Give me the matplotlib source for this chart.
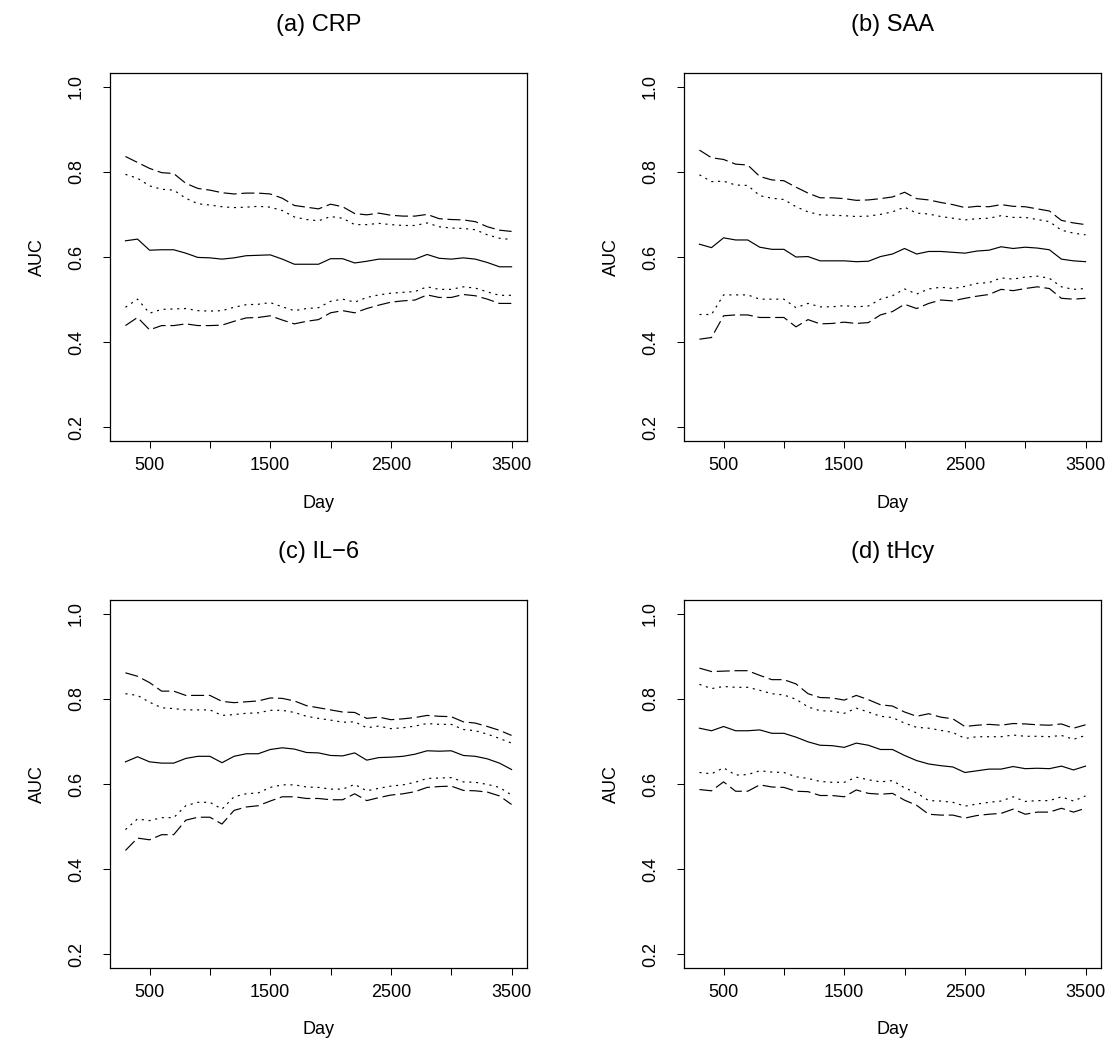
import matplotlib
matplotlib.use("Agg")
import matplotlib.pyplot as plt

plt.rcParams['font.family'] = ['Liberation Sans', 'DejaVu Sans']
plt.rcParams['lines.scale_dashes'] = False

days = list(range(300, 3501, 100))

panel_titles = ["(a) CRP", "(b) SAA", "(c) IL\u22126", "(d) tHcy"]
x_ticks = [500, 1000, 1500, 2000, 2500, 3000, 3500]
x_tick_labels = ["500", "", "1500", "", "2500", "", "3500"]
y_ticks = [0.2, 0.4, 0.6, 0.8, 1.0]
y_tick_labels = ["0.2", "0.4", "0.6", "0.8", "1.0"]

# (a) CRP
crp_auc = [0.638, 0.642, 0.616, 0.617, 0.617, 0.609, 0.599, 0.598, 0.595, 0.598, 0.603,
           0.604, 0.605, 0.595, 0.583, 0.583, 0.583, 0.596, 0.596, 0.586, 0.590, 0.595,
           0.595, 0.595, 0.595, 0.606, 0.597, 0.595, 0.598, 0.595, 0.587, 0.577, 0.577]
crp_upper_outer = [0.836, 0.822, 0.808, 0.798, 0.796, 0.773, 0.761, 0.757, 0.751, 0.748, 0.750,
                   0.750, 0.748, 0.738, 0.721, 0.717, 0.713, 0.724, 0.718, 0.702, 0.699, 0.703,
                   0.698, 0.696, 0.696, 0.700, 0.690, 0.688, 0.687, 0.683, 0.671, 0.663, 0.660]
crp_upper_inner = [0.794, 0.785, 0.767, 0.759, 0.757, 0.738, 0.725, 0.722, 0.718, 0.716, 0.717,
                   0.719, 0.717, 0.709, 0.694, 0.688, 0.685, 0.695, 0.691, 0.676, 0.676, 0.679,
                   0.676, 0.674, 0.674, 0.680, 0.671, 0.668, 0.667, 0.664, 0.652, 0.644, 0.641]
crp_lower_inner = [0.482, 0.501, 0.468, 0.477, 0.478, 0.479, 0.474, 0.473, 0.474, 0.482, 0.488,
                   0.489, 0.493, 0.483, 0.474, 0.479, 0.481, 0.496, 0.501, 0.494, 0.505, 0.511,
                   0.515, 0.517, 0.519, 0.530, 0.524, 0.524, 0.530, 0.527, 0.518, 0.510, 0.510]
crp_lower_outer = [0.439, 0.458, 0.429, 0.439, 0.439, 0.443, 0.439, 0.439, 0.440, 0.449, 0.457,
                   0.458, 0.462, 0.452, 0.443, 0.449, 0.453, 0.469, 0.474, 0.469, 0.479, 0.487,
                   0.494, 0.497, 0.499, 0.511, 0.505, 0.505, 0.512, 0.509, 0.501, 0.491, 0.491]

# (b) SAA
saa_auc = [0.630, 0.622, 0.645, 0.640, 0.640, 0.623, 0.618, 0.618, 0.600, 0.601, 0.591,
           0.591, 0.591, 0.589, 0.590, 0.601, 0.607, 0.620, 0.607, 0.613, 0.613, 0.611,
           0.609, 0.614, 0.616, 0.624, 0.620, 0.623, 0.621, 0.617, 0.595, 0.591, 0.589]
saa_upper_outer = [0.851, 0.833, 0.829, 0.818, 0.816, 0.789, 0.781, 0.779, 0.764, 0.750, 0.739,
                   0.739, 0.737, 0.733, 0.734, 0.737, 0.741, 0.752, 0.737, 0.734, 0.728, 0.723,
                   0.716, 0.719, 0.718, 0.723, 0.719, 0.718, 0.713, 0.708, 0.686, 0.680, 0.676]
saa_upper_inner = [0.793, 0.777, 0.778, 0.769, 0.768, 0.744, 0.738, 0.735, 0.718, 0.706, 0.699,
                   0.698, 0.697, 0.695, 0.696, 0.700, 0.706, 0.717, 0.703, 0.701, 0.695, 0.691,
                   0.687, 0.690, 0.691, 0.697, 0.693, 0.693, 0.688, 0.683, 0.663, 0.656, 0.652]
saa_lower_inner = [0.465, 0.465, 0.511, 0.511, 0.511, 0.501, 0.501, 0.501, 0.481, 0.491, 0.483,
                   0.483, 0.486, 0.483, 0.485, 0.501, 0.509, 0.525, 0.513, 0.525, 0.529, 0.526,
                   0.531, 0.538, 0.540, 0.551, 0.548, 0.553, 0.555, 0.550, 0.530, 0.524, 0.526]
saa_lower_outer = [0.407, 0.411, 0.462, 0.464, 0.464, 0.458, 0.458, 0.458, 0.436, 0.453, 0.443,
                   0.444, 0.447, 0.444, 0.446, 0.464, 0.472, 0.489, 0.479, 0.491, 0.499, 0.497,
                   0.503, 0.508, 0.512, 0.524, 0.521, 0.526, 0.530, 0.526, 0.503, 0.501, 0.503]

# (c) IL-6
il6_auc = [0.652, 0.664, 0.652, 0.649, 0.649, 0.660, 0.665, 0.665, 0.650, 0.665, 0.671,
           0.671, 0.681, 0.685, 0.682, 0.674, 0.673, 0.667, 0.666, 0.673, 0.656, 0.662,
           0.663, 0.665, 0.670, 0.678, 0.677, 0.678, 0.667, 0.665, 0.659, 0.649, 0.634]
il6_upper_outer = [0.861, 0.853, 0.838, 0.818, 0.818, 0.808, 0.808, 0.808, 0.794, 0.791, 0.793,
                   0.795, 0.802, 0.801, 0.795, 0.784, 0.779, 0.774, 0.769, 0.768, 0.754, 0.757,
                   0.751, 0.753, 0.756, 0.761, 0.759, 0.758, 0.746, 0.743, 0.735, 0.726, 0.714]
il6_upper_inner = [0.812, 0.808, 0.792, 0.779, 0.777, 0.774, 0.774, 0.774, 0.761, 0.763, 0.766,
                   0.767, 0.773, 0.773, 0.768, 0.759, 0.754, 0.750, 0.745, 0.746, 0.732, 0.736,
                   0.730, 0.732, 0.736, 0.742, 0.740, 0.740, 0.728, 0.725, 0.717, 0.707, 0.696]
il6_lower_inner = [0.493, 0.518, 0.514, 0.521, 0.521, 0.549, 0.557, 0.557, 0.541, 0.570, 0.577,
                   0.579, 0.592, 0.598, 0.598, 0.593, 0.592, 0.588, 0.588, 0.599, 0.584, 0.590,
                   0.595, 0.598, 0.604, 0.613, 0.614, 0.615, 0.605, 0.604, 0.599, 0.592, 0.574]
il6_lower_outer = [0.444, 0.473, 0.469, 0.481, 0.481, 0.515, 0.522, 0.522, 0.506, 0.538, 0.546,
                   0.549, 0.560, 0.570, 0.570, 0.566, 0.566, 0.563, 0.563, 0.577, 0.561, 0.568,
                   0.574, 0.577, 0.582, 0.592, 0.594, 0.595, 0.585, 0.584, 0.581, 0.572, 0.552]

# (d) tHcy
thcy_auc = [0.731, 0.725, 0.735, 0.725, 0.725, 0.727, 0.719, 0.719, 0.710, 0.699, 0.691,
            0.690, 0.686, 0.696, 0.691, 0.681, 0.681, 0.667, 0.655, 0.647, 0.643, 0.640,
            0.627, 0.631, 0.635, 0.635, 0.641, 0.636, 0.637, 0.636, 0.642, 0.633, 0.642]
thcy_upper_outer = [0.872, 0.864, 0.865, 0.866, 0.866, 0.855, 0.845, 0.845, 0.835, 0.812, 0.803,
                    0.802, 0.797, 0.808, 0.798, 0.786, 0.783, 0.769, 0.759, 0.765, 0.757, 0.753,
                    0.735, 0.738, 0.740, 0.738, 0.742, 0.741, 0.739, 0.738, 0.741, 0.731, 0.739]
thcy_upper_inner = [0.834, 0.824, 0.829, 0.827, 0.827, 0.820, 0.812, 0.809, 0.799, 0.781, 0.772,
                    0.771, 0.766, 0.778, 0.769, 0.759, 0.756, 0.743, 0.733, 0.731, 0.726, 0.721,
                    0.707, 0.711, 0.711, 0.711, 0.715, 0.712, 0.712, 0.711, 0.714, 0.705, 0.714]
thcy_lower_inner = [0.627, 0.624, 0.638, 0.621, 0.622, 0.631, 0.628, 0.627, 0.617, 0.613, 0.606,
                    0.604, 0.604, 0.616, 0.610, 0.605, 0.608, 0.591, 0.579, 0.561, 0.560, 0.557,
                    0.548, 0.553, 0.557, 0.560, 0.570, 0.559, 0.561, 0.561, 0.570, 0.560, 0.572]
thcy_lower_outer = [0.587, 0.584, 0.605, 0.583, 0.583, 0.598, 0.593, 0.592, 0.583, 0.582, 0.573,
                    0.573, 0.570, 0.586, 0.578, 0.576, 0.578, 0.562, 0.550, 0.529, 0.527, 0.527,
                    0.520, 0.526, 0.529, 0.531, 0.541, 0.529, 0.534, 0.534, 0.543, 0.534, 0.543]

panels = [
    (crp_auc, crp_upper_inner, crp_lower_inner, crp_upper_outer, crp_lower_outer),
    (saa_auc, saa_upper_inner, saa_lower_inner, saa_upper_outer, saa_lower_outer),
    (il6_auc, il6_upper_inner, il6_lower_inner, il6_upper_outer, il6_lower_outer),
    (thcy_auc, thcy_upper_inner, thcy_lower_inner, thcy_upper_outer, thcy_lower_outer),
]

W, H = 1113, 1038
fig = plt.figure(figsize=(W / 100, H / 100), dpi=100)

# axes boxes in pixels: (left, top, right, bottom)
boxes = [(110, 73, 527, 441), (684, 73, 1101, 441),
         (110, 600, 527, 968), (684, 600, 1101, 968)]

solid = '-'
dotted = (0, (1.5, 3.4))
dashed = (0, (9.4, 3.4))

TICK_FS = 13
LABEL_FS = 13
TITLE_FS = 17

for (l, t, r, b), title, (mid, ui, li, uo, lo) in zip(boxes, panel_titles, panels):
    ax = fig.add_axes([l / W, 1 - b / H, (r - l) / W, (b - t) / H])
    ax.plot(days, mid, color='black', lw=0.85, linestyle=solid)
    ax.plot(days, ui, color='black', lw=0.85, linestyle=dotted)
    ax.plot(days, li, color='black', lw=0.85, linestyle=dotted)
    ax.plot(days, uo, color='black', lw=0.85, linestyle=dashed)
    ax.plot(days, lo, color='black', lw=0.85, linestyle=dashed)

    ax.set_xlim(172, 3628)
    ax.set_ylim(0.168, 1.032)
    ax.set_xticks(x_ticks)
    ax.set_xticklabels(x_tick_labels, fontsize=TICK_FS)
    ax.set_yticks(y_ticks)
    ax.set_yticklabels(y_tick_labels, fontsize=TICK_FS, rotation=90, va='center')
    ax.tick_params(axis='both', direction='out', length=5, width=0.75, color='black')
    ax.tick_params(axis='x', pad=6.5)
    ax.tick_params(axis='y', pad=13)
    for s in ax.spines.values():
        s.set_linewidth(0.9)
        s.set_color('black')

    hpx = b - t
    wpx = r - l
    ax.text(0.5, 1 + 48 / hpx, title, transform=ax.transAxes, ha='center', va='center',
            fontsize=TITLE_FS)
    ax.text(0.5, -(62 / hpx), "Day", transform=ax.transAxes, ha='center', va='center',
            fontsize=LABEL_FS)
    ax.text(-(73 / wpx), 0.5, "AUC", transform=ax.transAxes, ha='center', va='center',
            rotation=90, fontsize=LABEL_FS)

fig.savefig("out.png", dpi=100)
